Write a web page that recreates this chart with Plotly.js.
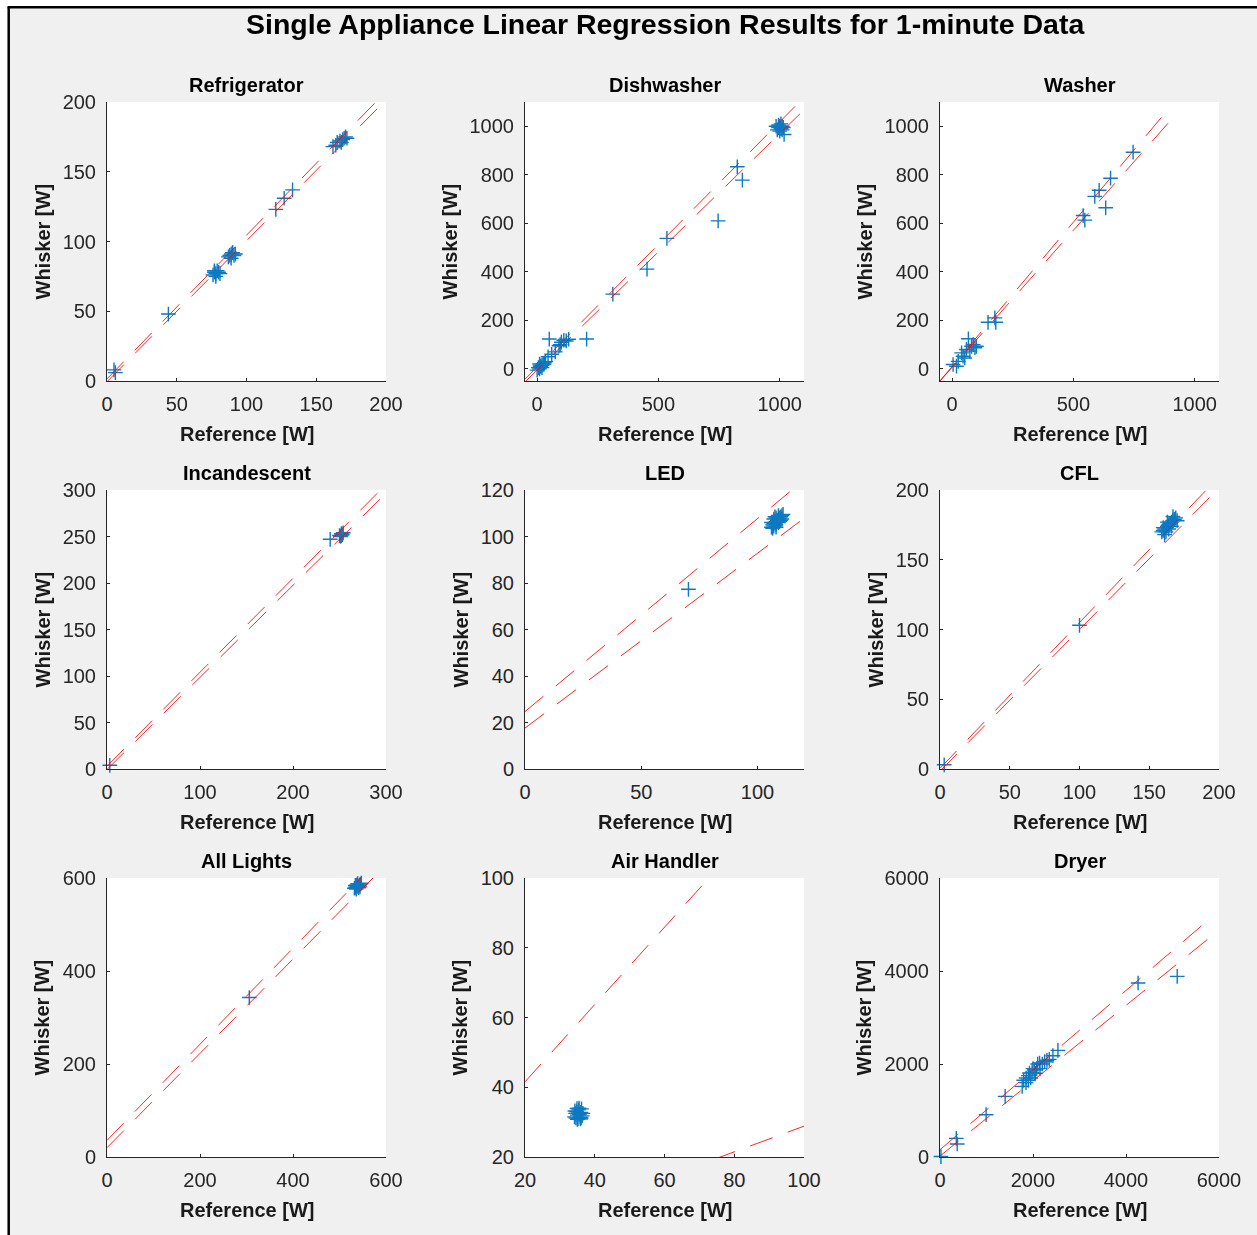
<!DOCTYPE html>
<html>
<head>
<meta charset="utf-8">
<script src="https://cdn.plot.ly/plotly-3.0.1.min.js"></script>
<style>
  html, body { margin: 0; padding: 0; background: #ffffff; }
  #chart { width: 1257px; height: 1235px; }
</style>
</head>
<body>
<div id="chart"></div>
<script>
// ---------------- data ----------------
const figureTitle = 'Single Appliance Linear Regression Results for 1-minute Data';
const panelTitles = ['Refrigerator', 'Dishwasher', 'Washer', 'Incandescent', 'LED', 'CFL', 'All Lights', 'Air Handler', 'Dryer'];
const xAxisTitle = 'Reference [W]';
const yAxisTitle = 'Whisker [W]';

// reference meter (x) vs. Whisker estimate (y), watts
const refrigeratorRef     = [5, 6, 44, 76, 77, 78, 79, 80, 81, 78, 77, 87, 88, 89, 90, 91, 92, 89, 90, 121, 127, 133, 162, 164, 165, 167, 168, 170, 171, 172, 169];
const refrigeratorWhisker = [8, 6, 48, 76, 78, 77, 79, 78, 77, 75, 79, 89, 90, 91, 92, 90, 91, 88, 92, 123, 131, 137, 168, 169, 171, 172, 171, 174, 175, 174, 173];

const dishwasherRef     = [5, 10, 15, 20, 25, 30, 0, 10, 20, 35, 12, 28, 45, 60, 75, 50, 90, 100, 110, 120, 130, 95, 204, 312, 453, 535, 746, 825, 846, 990, 995, 1000, 1005, 1010, 1000, 995, 1005, 1015, 985, 1010, 1018];
const dishwasherWhisker = [5, 0, 10, 15, 20, 25, -5, 20, 5, 30, 12, 18, 50, 60, 70, 123, 95, 110, 118, 115, 122, 100, 123, 308, 411, 538, 610, 833, 778, 985, 995, 1000, 990, 1000, 980, 1005, 1010, 995, 1000, 985, 966];

const washerRef     = [4, 25, 45, 39, 59, 67, 80, 87, 100, 73, 52, 94, 18, 148, 176, 180, 540, 547, 588, 606, 633, 653, 746];
const washerWhisker = [18, 31, 52, 66, 80, 124, 93, 100, 93, 73, 45, 87, 11, 192, 210, 192, 632, 613, 711, 736, 664, 786, 893];

const incandescentRef     = [3, 240, 250, 252, 253, 251, 254, 252];
const incandescentWhisker = [4, 247, 251, 253, 252, 250, 254, 251];

const ledRef     = [70.3, 106, 106.5, 107, 107.5, 108, 108.5, 109, 109.5, 110, 110.5, 107, 108, 109, 110, 106, 107, 108, 109, 108, 109.5, 107.5, 106.5, 110.5, 111];
const ledWhisker = [77.3, 104, 105, 105.5, 106, 106.5, 107, 107.5, 108, 108.5, 109, 104.5, 105, 106, 107, 106, 107.5, 108, 109, 104, 106.5, 108.5, 103.5, 107.5, 109.5];

const cflRef     = [3, 100, 159, 160, 161, 162, 163, 164, 165, 166, 167, 168, 169, 162, 164, 166, 160, 163, 167, 170, 161];
const cflWhisker = [3, 103, 170, 171, 172, 173, 174, 175, 176, 177, 178, 179, 180, 170, 172, 174, 173, 177, 181, 178, 168];

const allLightsRef     = [306, 532, 535, 538, 540, 543, 545, 536, 541, 534, 539, 544, 547, 537];
const allLightsWhisker = [343, 578, 580, 582, 583, 585, 587, 576, 579, 584, 588, 581, 589, 585];

const airHandlerRef     = [34.2, 34.5, 34.8, 35.0, 35.2, 35.4, 35.6, 35.8, 36.0, 36.2, 36.4, 35.0, 34.6, 35.5, 36.6, 34.3, 35.9, 35.3, 34.9, 36.1];
const airHandlerWhisker = [31.5, 32.5, 33.0, 32.0, 31.0, 33.5, 32.2, 31.4, 32.8, 33.8, 31.8, 30.8, 31.2, 34.0, 32.5, 33.2, 30.9, 32.6, 33.9, 31.2];

const dryerRef     = [20, 350, 370, 992, 1401, 1767, 1800, 1854, 1900, 1925, 1980, 2030, 2080, 2141, 2200, 2250, 2300, 2428, 2536, 1950, 2050, 2150, 2100, 2000, 2350, 1850, 1900, 4260, 5101];
const dryerWhisker = [10, 400, 280, 910, 1303, 1518, 1650, 1699, 1750, 1806, 1820, 1870, 1900, 2021, 2000, 2050, 2080, 2178, 2292, 1700, 1800, 1900, 2000, 1900, 2100, 1600, 1650, 3742, 3884];

const panelRef     = [refrigeratorRef, dishwasherRef, washerRef, incandescentRef, ledRef, cflRef, allLightsRef, airHandlerRef, dryerRef];
const panelWhisker = [refrigeratorWhisker, dishwasherWhisker, washerWhisker, incandescentWhisker, ledWhisker, cflWhisker, allLightsWhisker, airHandlerWhisker, dryerWhisker];

// regression bounds per panel: whisker = slope * reference + intercept
const upperSlope     = [1.03, 1.01, 1.19, 1.01, 0.83, 1.045, 1.033, 1.108, 0.856];
const upperIntercept = [1.5, 8, 10, 3, 24.7, 0.5, 35.8, 19.4, 157];
const lowerSlope     = [1.01, 0.975, 1.13, 0.99, 0.752, 1.015, 1.014, 0.369, 0.81];
const lowerIntercept = [-0.5, -5, 6.6, -0.5, 17.6, -1.5, 20, -8.05, 20];
const boundStart     = [0, -50, -50, 0, 0, 0, 0, 20, 0];
const upperEnd       = [200, 1100, 897, 300, 120, 200, 600, 100, 5843];
const lowerEnd       = [200, 1100, 931, 300, 120, 200, 600, 100, 6000];

// axis limits and tick values
const axisRanges = [[0, 200], [-50, 1100], [-50, 1100], [0, 300], [0, 120], [0, 200], [0, 600], [20, 100], [0, 6000]];
const xTickValues = [
  [0, 50, 100, 150, 200], [0, 500, 1000], [0, 500, 1000],
  [0, 100, 200, 300], [0, 50, 100], [0, 50, 100, 150, 200],
  [0, 200, 400, 600], [20, 40, 60, 80, 100], [0, 2000, 4000, 6000]
];
const yTickValues = [
  [0, 50, 100, 150, 200], [0, 200, 400, 600, 800, 1000], [0, 200, 400, 600, 800, 1000],
  [0, 50, 100, 150, 200, 250, 300], [0, 20, 40, 60, 80, 100, 120], [0, 50, 100, 150, 200],
  [0, 200, 400, 600], [20, 40, 60, 80, 100], [0, 2000, 4000, 6000]
];

// ---------------- layout geometry (pixels) ----------------
const W = 1257, H = 1235;
const colLeft = [107, 525, 940];
const rowTop = [102, 490, 878];
const plotSize = 279;
const FONT = 'Liberation Sans, Arial, Helvetica, sans-serif';
const AXIS_COLOR = '#262626';
const MARK_BLUE = '#0072BD';

const px = x => x / W;
const py = y => 1 - y / H;

const traces = [];
const layout = {
  width: W, height: H,
  margin: {l: 0, r: 0, t: 0, b: 0},
  paper_bgcolor: '#f0f0f0',
  plot_bgcolor: '#ffffff',
  showlegend: false,
  font: {family: FONT, color: AXIS_COLOR},
  annotations: [],
  shapes: []
};

panelTitles.forEach((name, i) => {
  const row = Math.floor(i / 3), col = i % 3;
  const n = i + 1;
  const xa = 'x' + (n === 1 ? '' : n);
  const ya = 'y' + (n === 1 ? '' : n);
  const left = colLeft[col], top = rowTop[row];

  const axisCommon = {
    range: axisRanges[i],
    ticks: 'inside', ticklen: 3, tickwidth: 1, tickcolor: AXIS_COLOR,
    showline: true, linecolor: AXIS_COLOR, linewidth: 1, mirror: false,
    showgrid: false, zeroline: false,
    tickfont: {family: FONT, size: 20, color: AXIS_COLOR},
    fixedrange: true
  };
  layout['xaxis' + (n === 1 ? '' : n)] = Object.assign({}, axisCommon, {
    domain: [px(left), px(left + plotSize)],
    anchor: ya, tickmode: 'array', tickvals: xTickValues[i],
    ticklabelstandoff: 5
  });
  layout['yaxis' + (n === 1 ? '' : n)] = Object.assign({}, axisCommon, {
    domain: [py(top + plotSize), py(top)],
    anchor: xa, tickmode: 'array', tickvals: yTickValues[i],
    ticklabelstandoff: 6
  });

  // measured points
  traces.push({
    type: 'scatter', mode: 'markers', xaxis: xa, yaxis: ya,
    x: panelRef[i], y: panelWhisker[i],
    cliponaxis: false, opacity: 0.95,
    marker: {symbol: 'cross-thin', size: 10.5, color: MARK_BLUE, line: {color: MARK_BLUE, width: 1.4}},
    hoverinfo: 'x+y'
  });

  // upper and lower bounds
  const bounds = [
    [upperSlope[i], upperIntercept[i], upperEnd[i]],
    [lowerSlope[i], lowerIntercept[i], lowerEnd[i]]
  ];
  bounds.forEach(([m, b, xEnd]) => {
    const xs = [boundStart[i], xEnd];
    traces.push({
      type: 'scatter', mode: 'lines', xaxis: xa, yaxis: ya,
      x: xs, y: xs.map(v => m * v + b),
      opacity: 0.85,
      line: {color: '#ff0000', width: 1, dash: '24px,16px'},
      hoverinfo: 'skip'
    });
  });

  // panel title
  layout.annotations.push({
    xref: 'paper', yref: 'paper', x: px(left + plotSize / 2), y: py(top - 17),
    xanchor: 'center', yanchor: 'middle', showarrow: false,
    text: '<b>' + name + '</b>', font: {family: FONT, size: 20, color: '#000000'}
  });
  // x-axis title
  layout.annotations.push({
    xref: 'paper', yref: 'paper', x: px(left + plotSize / 2), y: py(top + plotSize + 53),
    xanchor: 'center', yanchor: 'middle', showarrow: false,
    text: '<b>' + xAxisTitle + '</b>', font: {family: FONT, size: 20, color: '#1a1a1a'}
  });
  // y-axis title, offset by the widest tick label
  const widest = Math.max(...yTickValues[i].map(v => String(v).length));
  layout.annotations.push({
    xref: 'paper', yref: 'paper', x: px(left - 65 - (widest - 3) * 11), y: py(top + plotSize / 2),
    xanchor: 'center', yanchor: 'middle', showarrow: false, textangle: -90,
    text: '<b>' + yAxisTitle + '</b>', font: {family: FONT, size: 20, color: '#1a1a1a'}
  });
});

// figure title
layout.annotations.push({
  xref: 'paper', yref: 'paper', x: px(665), y: py(24),
  xanchor: 'center', yanchor: 'middle', showarrow: false,
  text: '<b>' + figureTitle + '</b>', font: {family: FONT, size: 28.5, color: '#000000'}
});

// window frame: white margin on the left and top edges with a dark border
layout.shapes.push(
  {type: 'rect', xref: 'paper', yref: 'paper', x0: 0, x1: px(8), y0: 0, y1: 1, fillcolor: '#ffffff', line: {width: 0}},
  {type: 'rect', xref: 'paper', yref: 'paper', x0: 0, x1: 1, y0: py(6), y1: 1, fillcolor: '#ffffff', line: {width: 0}},
  {type: 'line', xref: 'paper', yref: 'paper', x0: px(8.7), x1: px(8.7), y0: 0, y1: py(7.3), line: {color: '#000000', width: 2.5}},
  {type: 'line', xref: 'paper', yref: 'paper', x0: px(7.5), x1: 1, y0: py(7.3), y1: py(7.3), line: {color: '#000000', width: 2.5}}
);

Plotly.newPlot('chart', traces, layout, {displayModeBar: false, staticPlot: true});
</script>
</body>
</html>
